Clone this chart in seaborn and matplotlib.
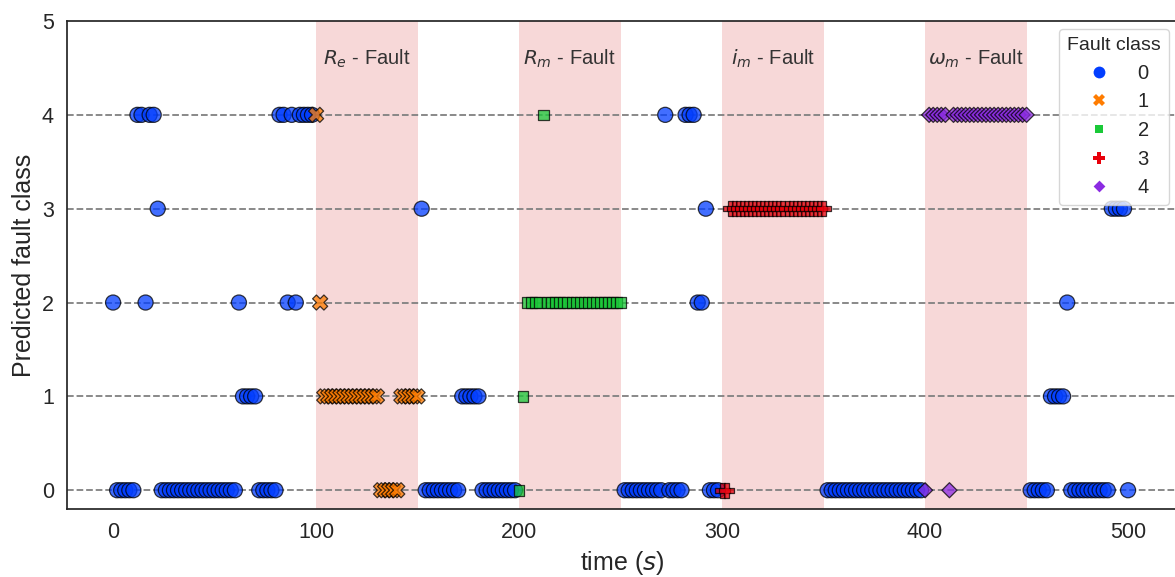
import numpy as np
import pandas as pd
import matplotlib
matplotlib.use("Agg")
import matplotlib.pyplot as plt
import seaborn as sns

# Sampling grid of the test run (seconds)
t_start, t_stop, t_step = 0, 500, 2

# Predicted fault class for each sample, ten samples (20 s) per string
predicted_blocks = [
    "2000004424",  # 0 - 18 s
    "4300000000",  # 20 - 38 s
    "0000000000",  # 40 - 58 s
    "0211110000",  # 60 - 78 s
    "0442424444",  # 80 - 98 s
    "4211111111",  # 100 - 118 s
    "1111110000",  # 120 - 138 s
    "0111113000",  # 140 - 158 s
    "0000001111",  # 160 - 178 s
    "1000000000",  # 180 - 198 s
    "0122224222",  # 200 - 218 s
    "2222222222",  # 220 - 238 s
    "2222220000",  # 240 - 258 s
    "0000004000",  # 260 - 278 s
    "0444223000",  # 280 - 298 s
    "0033333333",  # 300 - 318 s
    "3333333333",  # 320 - 338 s
    "3333330000",  # 340 - 358 s
    "0000000000",  # 360 - 378 s
    "0000000000",  # 380 - 398 s
    "0444440444",  # 400 - 418 s
    "4444444444",  # 420 - 438 s
    "4444440000",  # 440 - 458 s
    "0111120000",  # 460 - 478 s
    "0000003333",  # 480 - 498 s
    "0",           # 500 s
]

# Injected fault windows (start time, duration) and their labels
fault_starts = [100, 200, 300, 400]
fault_duration = 50
fault_names = [r"$R_e$ - Fault", r"$R_m$ - Fault", r"$i_m$ - Fault", r"$\omega_m$ - Fault"]
class_levels = ["0", "1", "2", "3", "4"]

# ---- build the table -------------------------------------------------------
time = np.arange(t_start, t_stop + t_step, t_step)
predicted = np.array([int(c) for c in "".join(predicted_blocks)])
true_class = np.zeros_like(time)
for k, start in enumerate(fault_starts, start=1):
    true_class[(time >= start) & (time <= start + fault_duration)] = k

df = pd.DataFrame({
    "time": time,
    "Predicted fault class": predicted,
    "Fault class": true_class.astype(str),
})

# ---- figure ----------------------------------------------------------------
sns.set_theme(style="white")
plt.rcParams["font.family"] = ["Liberation Sans", "DejaVu Sans"]
plt.rcParams["mathtext.fontset"] = "dejavusans"

fig = plt.figure(figsize=(11.75, 5.77), dpi=100)
ax = fig.add_axes([67 / 1175, 68 / 577, 1110 / 1175, 488 / 577])

for start in fault_starts:
    ax.axvspan(start, start + fault_duration, color="#e06666", alpha=0.25,
               lw=0, zorder=1)

for level in range(len(class_levels)):
    ax.axhline(level, color="gray", ls="--", lw=1.3, zorder=2)

sns.scatterplot(
    data=df, x="time", y="Predicted fault class",
    hue="Fault class", style="Fault class",
    hue_order=class_levels, style_order=class_levels,
    palette="bright", s=118, edgecolor="black", linewidth=0.9,
    alpha=0.75, zorder=3, ax=ax,
)

for start, name in zip(fault_starts, fault_names):
    ax.text(start + fault_duration / 2, 4.6, name, ha="center", va="center",
            fontsize=14.5, color="#333333")

ax.set_xlim(-22.7, 524.1)
ax.set_ylim(-0.2, 5)
ax.set_xticks([0, 100, 200, 300, 400, 500])
ax.set_yticks(range(6))
ax.tick_params(labelsize=15.5, colors="#262626")
ax.set_xlabel(r"time ($s$)", fontsize=18)
ax.set_ylabel("Predicted fault class", fontsize=18)

handles, labels = ax.get_legend_handles_labels()
for h in handles:
    h.set_alpha(1)
    h.set_markeredgewidth(0)
    h.set_markersize(8.5)
leg = ax.legend(handles, labels, title="Fault class", loc="upper right",
                fontsize=14.5, title_fontsize=14, handletextpad=0.9,
                labelspacing=0.48, borderaxespad=0.4, frameon=True)

fig.savefig("out.png", dpi=100)
